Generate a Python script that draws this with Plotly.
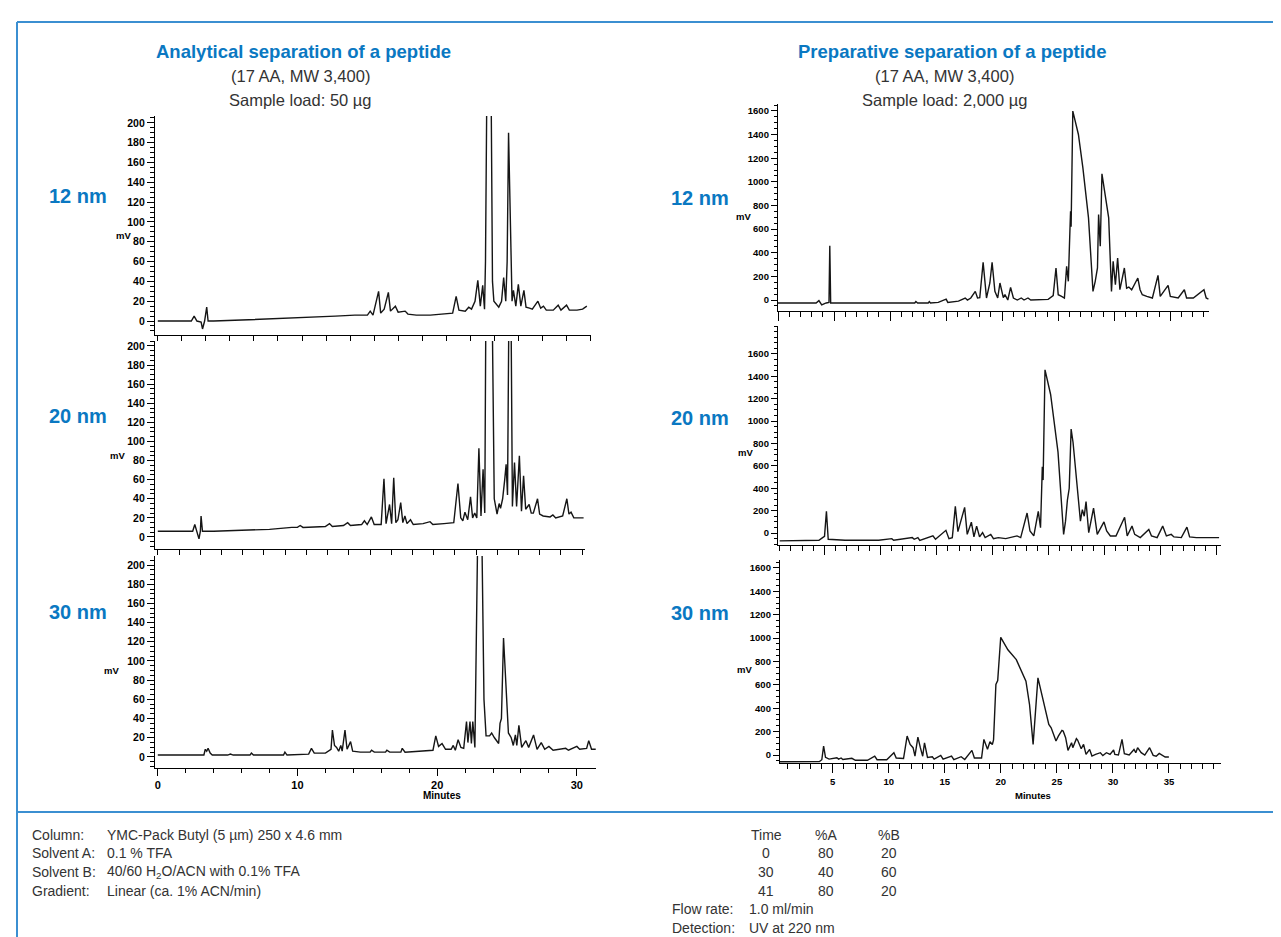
import plotly.graph_objects as go

W, H = 1281, 937

# ---------------- data (minutes, mV) ----------------
a12_t = [0, 2.4, 2.6, 2.8, 3.1, 3.2, 3.35, 3.5, 3.6, 4.0, 6.0, 8.0, 10.0, 11.7, 12.7, 14.1, 15.0, 15.2, 15.4,
         15.8, 15.95, 16.2, 16.5, 16.65, 17.0, 17.2, 17.7, 17.9, 18.5, 19.5, 20.5, 21.1, 21.35, 21.55, 22.0, 22.25,
         22.45, 22.7, 22.9, 23.08, 23.25, 23.38, 23.45, 23.55, 23.85, 23.95, 24.05, 24.2, 24.4, 24.6, 24.75, 24.9,
         25.0, 25.1, 25.25, 25.35, 25.45, 25.62, 25.8, 25.98, 26.2, 26.35, 26.6, 26.8, 27.2, 27.4, 27.6, 27.8,
         28.3, 28.65, 28.85, 29.25, 29.45, 30.0, 30.4, 30.7]
a12_mv = [0, 0, 5, 0, -1, -8, 0, 14, 0, 0, 1, 2, 3, 4, 5, 6, 6, 10, 6,
          30, 8, 12, 29, 10, 15, 9, 10, 7, 6, 6, 7, 8, 25, 11, 10, 14,
          12, 20, 41, 15, 36, 12, 60, 240, 240, 40, 20, 17, 14, 20, 44, 20,
          60, 190, 60, 20, 31, 15, 37, 15, 31, 14, 13, 12, 20, 13, 15, 11,
          11, 16, 11, 16, 11, 11, 12, 15]

a20_t = [0, 2.5, 2.65, 2.8, 2.95, 3.05, 3.1, 3.2, 4.0, 6.0, 8.0, 9.6, 10.0, 10.2, 10.4, 12.0, 12.3, 12.5, 13.3,
         13.6, 13.8, 14.6, 14.8, 15.0, 15.3, 15.5, 16.0, 16.2, 16.35, 16.6, 16.75, 16.9, 17.05, 17.2, 17.4,
         17.55, 17.7, 17.85, 18.1, 18.3, 19.0, 19.5, 19.7, 20.5, 21.2, 21.5, 21.7, 21.85, 22.0, 22.2, 22.4,
         22.55, 22.7, 22.85, 23.0, 23.15, 23.3, 23.42, 23.5, 23.95, 24.1, 24.3, 24.45, 24.55, 24.7, 24.85,
         24.95, 25.05, 25.15, 25.3, 25.4, 25.55, 25.7, 25.9, 26.05, 26.2, 26.35, 26.6, 26.75, 26.9, 27.2,
         27.35, 27.6, 28.1, 28.3, 28.5, 29.0, 29.3, 29.45, 29.6, 29.8, 30.5]
a20_mv = [6, 6, 13, 6, -2, 6, 22, 6, 6, 7, 8, 10, 10, 12, 10, 11, 14, 11, 12,
          15, 12, 13, 17, 13, 21, 13, 13, 61, 14, 34, 14, 62, 15, 18, 36,
          15, 22, 14, 18, 13, 14, 16, 13, 14, 15, 56, 20, 17, 26, 18, 42,
          20, 25, 20, 93, 22, 71, 25, 240, 240, 40, 24, 35, 30, 40, 60,
          76, 44, 240, 240, 32, 78, 32, 85, 27, 64, 29, 34, 25, 25, 40,
          24, 22, 21, 23, 20, 22, 40, 24, 26, 20, 20]

a30_t = [0, 3.3, 3.4, 3.5, 3.6, 3.75, 3.9, 5.0, 5.2, 5.4, 6.6, 6.7, 6.85, 9.0, 9.1, 9.25, 10.8, 11.0, 11.2,
         11.5, 12.0, 12.4, 12.5, 12.65, 12.8, 12.95, 13.1, 13.2, 13.4, 13.55, 13.8, 13.95, 14.5, 15.2, 15.3,
         15.5, 16.3, 16.4, 16.6, 17.4, 17.5, 17.7, 19.0, 19.7, 19.9, 20.1, 20.35, 20.6, 21.0, 21.15, 21.3,
         21.5, 21.7, 21.9, 22.1, 22.2, 22.35, 22.45, 22.55, 22.7, 22.9, 23.2, 23.35, 23.5, 23.75, 23.9, 24.1,
         24.4, 24.5, 24.6, 24.75, 24.95, 25.1, 25.3, 25.45, 25.6, 25.7, 25.85, 26.05, 26.35, 26.55, 26.9,
         27.15, 27.45, 27.7, 28.0, 28.3, 29.2, 29.4, 30.0, 30.2, 30.7, 30.85, 31.05, 31.35]
a30_mv = [2, 2, 8, 6, 9, 4, 2, 2, 3, 2, 2, 4, 2, 2, 5, 2, 3, 9, 4,
          4, 4, 8, 28, 12, 10, 6, 12, 6, 28, 8, 16, 6, 5, 5, 7,
          5, 5, 7, 5, 5, 9, 5, 6, 7, 22, 11, 14, 8, 8, 12, 7,
          18, 10, 9, 37, 15, 37, 14, 37, 10, 230, 230, 60, 22, 22, 25, 20,
          14, 35, 40, 124, 60, 25, 20, 12, 23, 12, 33, 10, 17, 10, 23,
          8, 15, 8, 11, 7, 9, 7, 11, 8, 9, 17, 8, 8]

p12_t = [0, 3.4, 3.65, 3.9, 4.3, 4.55, 4.62, 4.7, 6.3, 12.2, 12.3, 12.45, 13.4, 13.5, 13.6, 14.3, 15.0, 15.15,
         16.1, 16.7, 16.9, 17.2, 17.6, 17.8, 18.0, 18.3, 18.6, 18.9, 19.1, 19.35, 19.6, 19.8, 20.1, 20.25,
         20.5, 20.75, 21.0, 21.35, 21.7, 21.95, 22.3, 22.55, 24.1, 24.55, 24.8, 25.0, 25.3, 25.55, 25.75,
         25.9, 26.05, 26.1, 26.15, 26.3, 26.8, 27.2, 27.7, 28.1, 28.3, 28.5, 28.6, 28.75, 28.9, 29.2, 29.5,
         29.75, 29.9, 30.1, 30.3, 30.5, 30.9, 31.1, 31.3, 31.55, 31.8, 32.1, 32.3, 32.5, 32.9, 33.4, 33.9,
         34.1, 34.8, 35.0, 35.7, 36.25, 36.45, 37.05, 38.0, 38.2, 38.4]
p12_mv = [-25, -25, -5, -42, -25, -20, 460, -25, -25, -25, -13, -25, -25, -13, -25, -20, 8, -20,
          -10, 17, 0, 17, 73, 17, 20, 319, 17, 144, 319, 73, 17, 144, 20, 45,
          0, 107, 17, 0, 17, 0, 17, 0, 5, 37, 271, 45, 31, 17, 285,
          158, 610, 751, 620, 1599, 1401, 1119, 695, 73, 158, 271, 723, 455, 1068, 879, 695,
          73, 328, 130, 356, 87, 271, 100, 110, 87, 130, 186, 87, 45, 31, 17, 209,
          31, 124, 31, 17, 87, 17, 17, 87, 17, 8]

p20_t = [1.0, 4.5, 4.83, 5.0, 5.17, 5.33, 6.83, 7.83, 9.83, 11.0, 11.17, 12.83, 13.0, 13.33, 13.5, 14.67, 14.9,
         15.83, 16.1, 16.4, 16.67, 16.9, 17.17, 17.5, 17.73, 18.1, 18.33, 18.57, 18.83, 19.1, 19.33, 19.83,
         20.07, 20.5, 21.17, 22.17, 22.5, 23.07, 23.33, 23.67, 24.07, 24.27, 24.43, 24.5, 24.67, 25.17, 25.83,
         26.33, 26.5, 26.67, 26.83, 26.9, 27.0, 27.17, 27.43, 27.83, 28.0, 28.17, 28.33, 28.57, 29.0, 29.33,
         29.93, 30.17, 30.5, 31.0, 31.77, 32.0, 32.43, 32.67, 33.17, 33.93, 34.17, 34.67, 35.17, 35.5, 35.93,
         36.17, 36.83, 37.33, 37.57, 38.17, 39.17, 40.2]
p20_mv = [-70, -65, -41, -30, 194, -56, -65, -65, -65, -50, -65, -41, -56, -41, -65, -26, -56,
          24, -50, -41, 238, 12, 106, 229, -12, 97, -35, 62, -35, 3, -41, -12,
          -50, -41, -50, -26, -41, 179, 18, -26, 194, 47, 591, 473, 1458, 1238, 723,
          -12, 106, 297, 400, 591, 929, 811, 547, 106, 209, 150, 282, 3, 223, -12,
          100, 18, -26, -26, 141, -26, 62, -12, -41, 32, -26, -41, 62, -26, -12,
          -35, -41, 53, -35, -41, -41, -41]

p30_t = [0.3, 3.82, 4.03, 4.19, 4.36, 4.68, 5.37, 5.53, 5.75, 5.91, 6.71, 7.03, 8.10, 8.75, 8.96, 9.82, 10.46,
         10.67, 11.32,
         11.64, 11.91, 12.17, 12.34, 12.60, 12.82, 13.03, 13.19, 13.46, 13.89, 14.05, 14.64, 14.85, 15.60, 15.81,
         16.46,
         16.78, 17.42, 17.64, 18.28, 18.49, 18.81, 19.03, 19.24, 19.35, 19.56, 19.72, 19.99, 20.63, 21.38, 22.24,
         22.56,
         22.88, 23.31, 23.90, 24.28, 24.49, 24.92, 25.13, 25.24, 25.45, 25.56, 25.78, 25.99, 26.31, 26.42, 26.74,
         26.85,
         27.17, 27.38, 27.60, 27.92, 28.13, 28.45, 28.88, 29.10, 29.42, 29.74, 30.06, 30.17, 30.49, 30.81, 31.02,
         31.45,
         31.88, 32.04, 32.20, 32.52, 32.84, 33.27, 33.59, 33.86, 34.13, 34.66, 34.99]
p30_mv = [-57, -55, -40, 77, -20, -35, -23, -35, -25, -38, -28, -45, -45, -9, -40, -40, 20, -25, -30,
          162, 91, 63, -10, 154, 63, -10, 105, -20, -15, -35, -3, -35, -9, -40, -14,
          -38, 40, -25, -25, 134, 50, 114, 90, 130, 603, 637, 1007, 900, 816, 631, 432,
          91, 660, 432, 262, 233, 120, 162, 176, 210, 205, 148, 40, 105, 63, 140, 128,
          54, 91, 6, 48, -9, 5, 20, -5, 20, 5, 43, 6, 0, 134, 11, 0,
          48, 20, 63, 20, 0, 63, -3, -10, 14, -17, -17]

left_xticks = [0, 10, 20, 30]
right_xticks = [5, 10, 15, 20, 25, 30, 35]
left_yticks = [0, 20, 40, 60, 80, 100, 120, 140, 160, 180, 200]
right_yticks = [0, 200, 400, 600, 800, 1000, 1200, 1400, 1600]


def fx(x):
    return x / W


def fy(y):
    return 1 - y / H


BLUE = "#0a78c2"
FRAME = "#3b8fd1"
TXT = "#333333"
TICKFONT_L = dict(family="Liberation Sans", size=10.5, color="black", weight="bold")
TICKFONT_R = dict(family="Liberation Sans", size=9.5, color="black", weight="bold")

fig = go.Figure()

panels = [
    (a12_t, a12_mv, (147, 583), (108, 327), [-0.2, 31.0], [-14.1, 207], "L", "p1"),
    (a20_t, a20_mv, (147, 577), (333, 541), [-0.2, 30.6], [-12.6, 205.2], "L", "p2"),
    (a30_t, a30_mv, (147, 588), (548, 760), [-0.2, 31.37], [-11.5, 209.4], "L", "p3"),
    (p12_t, p12_mv, (770, 1201), (96, 303), [0.0, 38.45], [-93, 1659], "R", "r1"),
    (p20_t, p20_mv, (770, 1213), (318, 537), [0.85, 40.37], [-107, 1850], "R", "r2"),
    (p30_t, p30_mv, (772, 1213), (552, 755), [0.3, 39.64], [-68, 1668], "R", "r3"),
]

layout = dict(
    width=W, height=H, margin=dict(l=0, r=0, t=0, b=0),
    paper_bgcolor="white", plot_bgcolor="white", showlegend=False,
    template="none",
)

for i, (t, mv, xd, yd, xr, yr, side, key) in enumerate(panels, start=1):
    xa = "x" if i == 1 else f"x{i}"
    ya = "y" if i == 1 else f"y{i}"
    fig.add_trace(go.Scatter(x=t, y=mv, mode="lines", xaxis=xa, yaxis=ya,
                             line=dict(color="#151515", width=1.4), hoverinfo="skip"))
    xname = "xaxis" if i == 1 else f"xaxis{i}"
    yname = "yaxis" if i == 1 else f"yaxis{i}"
    xax = dict(domain=[fx(xd[0]), fx(xd[1])], range=xr, anchor=ya, showgrid=False, zeroline=False,
               showline=True, linecolor="black", linewidth=1.3, ticks="outside", tickcolor="black",
               tickwidth=1, mirror=False, fixedrange=True)
    yax = dict(domain=[fy(yd[1]), fy(yd[0])], range=yr, anchor=xa, showgrid=False, zeroline=False,
               showline=True, linecolor="black", linewidth=1.3, ticks="outside", tickcolor="black",
               tickwidth=1, fixedrange=True)
    if side == "L":
        yax.update(tickmode="array", tickvals=left_yticks, ticktext=[str(v) for v in left_yticks],
                   ticklen=7, tickfont=TICKFONT_L,
                   minor=dict(tickmode="linear", tick0=0, dtick=5, ticklen=4, ticks="outside",
                              tickcolor="black", showgrid=False))
        if key == "p3":
            xax.update(tickmode="array", tickvals=left_xticks, ticktext=[str(v) for v in left_xticks],
                       ticklen=7, tickfont=dict(family="Liberation Sans", size=11, color="black", weight="bold"),
                       minor=dict(tickmode="linear", tick0=0, dtick=2, ticklen=4, ticks="outside",
                                  tickcolor="black", showgrid=False))
        else:
            xax.update(tickmode="linear", tick0=0, dtick=1.72 if key == "p1" else 1.52, ticklen=5,
                       showticklabels=False)
    else:
        yax.update(tickmode="array", tickvals=right_yticks, ticktext=[str(v) for v in right_yticks],
                   ticklen=6, tickfont=TICKFONT_R,
                   minor=dict(tickmode="linear", tick0=0, dtick=50, ticklen=3, ticks="outside",
                              tickcolor="black", showgrid=False))
        if key == "r3":
            xax.update(tickmode="array", tickvals=right_xticks, ticktext=[str(v) for v in right_xticks],
                       ticklen=9, tickfont=TICKFONT_R,
                       minor=dict(tickmode="linear", tick0=0, dtick=1, ticklen=5, ticks="outside",
                                  tickcolor="black", showgrid=False))
        else:
            xax.update(tickmode="linear", tick0=0, dtick=5, ticklen=9, showticklabels=False,
                       minor=dict(tickmode="linear", tick0=0, dtick=1, ticklen=5, ticks="outside",
                                  tickcolor="black", showgrid=False))
    layout[xname] = xax
    layout[yname] = yax

fig.update_layout(**layout)

ann = []


def text(x, y, s, size=14, color=TXT, bold=False, xanchor="left"):
    ann.append(dict(x=fx(x), y=fy(y), xref="paper", yref="paper", text=s, showarrow=False,
                    xanchor=xanchor, yanchor="middle",
                    font=dict(family="Liberation Sans", size=size, color=color,
                              weight="bold" if bold else "normal")))


# titles
text(295, 43, "Analytical separation of a peptide", 18.5, BLUE, True, "center")
text(292, 68, "(17 AA, MW 3,400)", 16.5, TXT, False, "center")
text(292, 92, "Sample load: 50 µg", 16.5, TXT, False, "center")
text(944, 43, "Preparative separation of a peptide", 18.5, BLUE, True, "center")
text(936, 68, "(17 AA, MW 3,400)", 16.5, TXT, False, "center")
text(936, 92, "Sample load: 2,000 µg", 16.5, TXT, False, "center")

# pore size labels
for lbl, yl, yr_ in [("12 nm", 188, 190), ("20 nm", 408, 410), ("30 nm", 604, 605)]:
    text(70, yl, lbl, 20, BLUE, True, "center")
    text(692, yr_, lbl, 20, BLUE, True, "center")

# mV labels
for (mx, my) in [(115, 227), (109, 447), (103, 662), (735, 208), (737, 445), (736, 661)]:
    text(mx, my, "mV", 9.5, "black", True, "center")

# Minutes labels
text(434, 787, "Minutes", 10, "black", True, "center")
text(1025, 787, "Minutes", 9.5, "black", True, "center")

# bottom notes
rows = [("Column:", "YMC-Pack Butyl (5 µm) 250 x 4.6 mm", 827),
        ("Solvent A:", "0.1 % TFA", 845),
        ("Solvent B:", "40/60 H<sub>2</sub>O/ACN with 0.1% TFA", 864),
        ("Gradient:", "Linear (ca. 1% ACN/min)", 883)]
for lab, val, yy in rows:
    text(22, yy, lab, 14)
    text(97, yy, val, 14)

grad = [("Time", "%A", "%B", 827), ("0", "80", "20", 845), ("30", "40", "60", 864), ("41", "80", "20", 883)]
for a, b, c, yy in grad:
    text(758, yy, a, 14, xanchor="center")
    text(818, yy, b, 14, xanchor="center")
    text(881, yy, c, 14, xanchor="center")
text(662, 901, "Flow rate:", 14)
text(739, 901, "1.0 ml/min", 14)
text(662, 920, "Detection:", 14)
text(739, 920, "UV at 220 nm", 14)

shapes = []
for (x0, y0, x1, y1) in [(9, 14, 1273, 14), (9, 14, 9, 937), (1273, 14, 1273, 937), (9, 804, 1273, 804)]:
    shapes.append(dict(type="line", xref="paper", yref="paper", x0=fx(x0), y0=fy(y0), x1=fx(x1), y1=fy(y1),
                       line=dict(color=FRAME, width=2)))

fig.update_layout(annotations=ann, shapes=shapes)
fig.write_html("out.html")
